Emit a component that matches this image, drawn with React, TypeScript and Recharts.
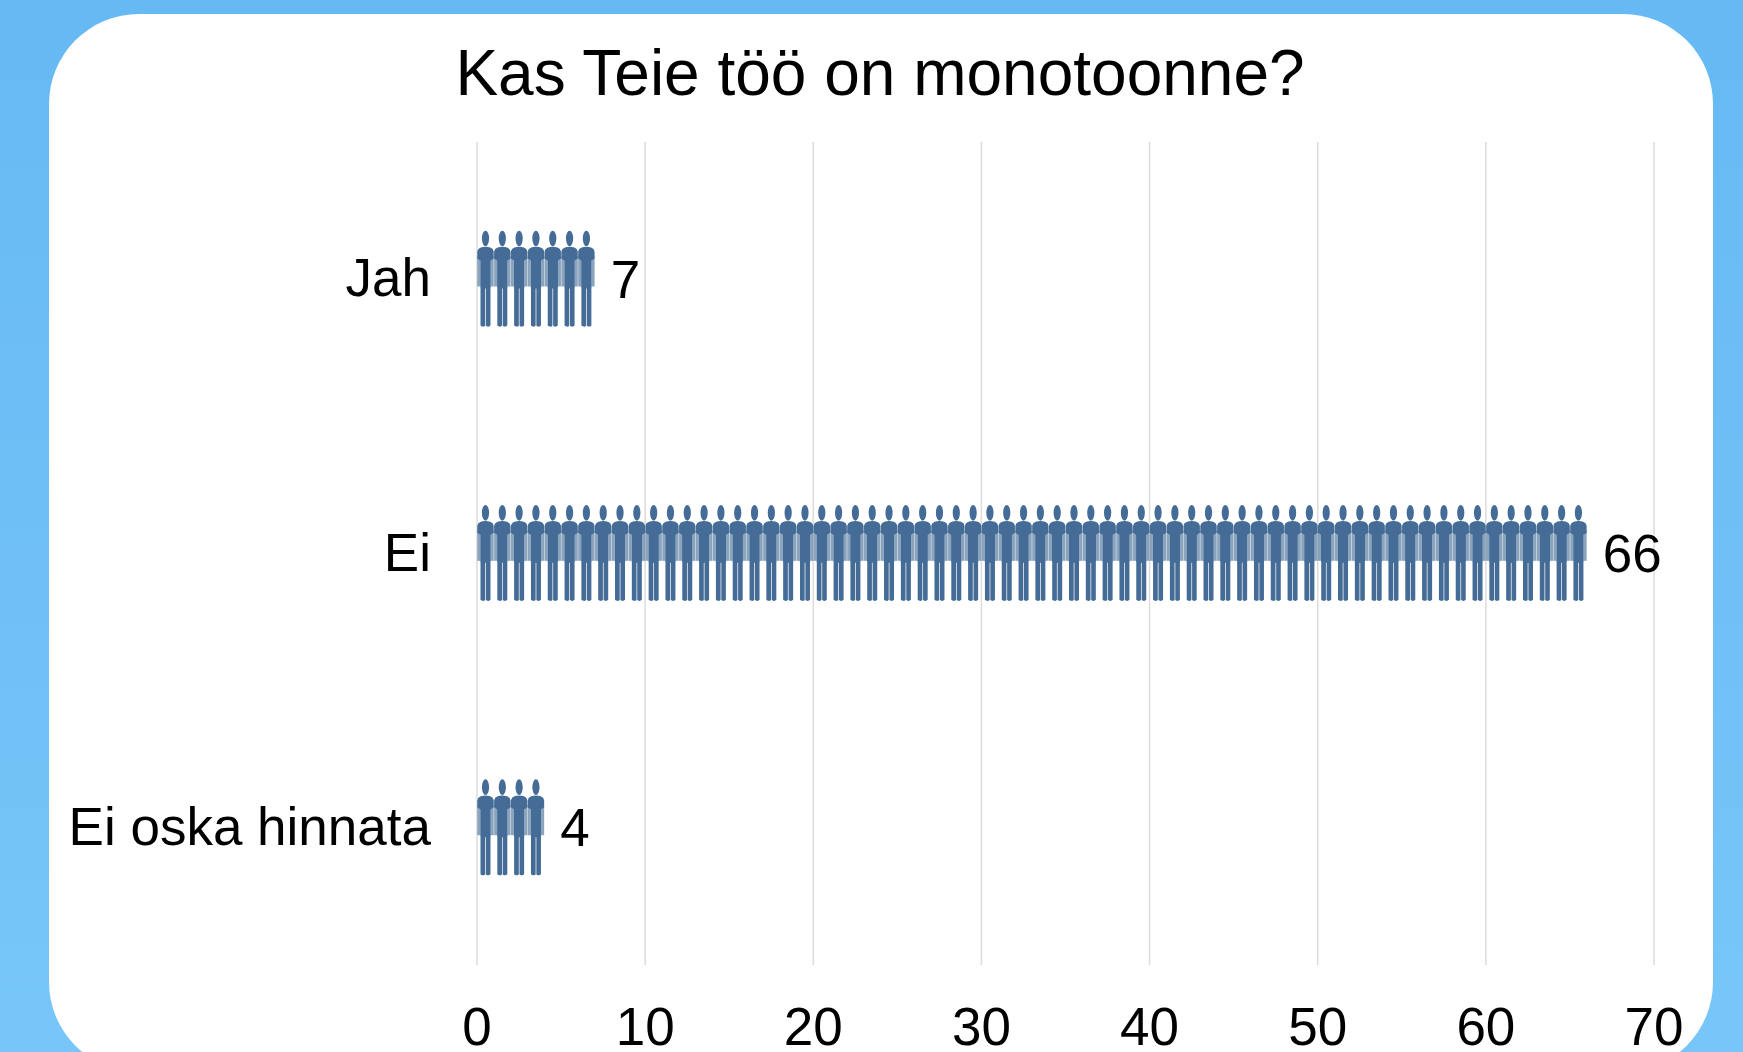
import React from "react";
import { BarChart, Bar, XAxis, YAxis, CartesianGrid, LabelList } from "recharts";

const categories = ["Jah", "Ei", "Ei oska hinnata"];
const counts = [7, 66, 4];
const xTicks = [0, 10, 20, 30, 40, 50, 60, 70];
const title = "Kas Teie töö on monotoonne?";
const chartData = categories.map((name, i) => ({ name, value: counts[i] }));

const FONT = "'Liberation Sans', Arial, sans-serif";
const INK = "#446c96";

// One person, drawn in a 17 x 96 box.
function Person({ x, y }: { x: number; y: number }) {
  return (
    <g transform={`translate(${x},${y})`} fill={INK}>
      <ellipse cx={8.2} cy={8} rx={3.6} ry={7.8} />
      <path d="M3.5 17 Q8.2 15.5 13 17 Q16 18 16.4 21 L16.4 28 L13.4 30 L13.4 57 L13.2 57 L13.2 95 Q11.8 96.5 10.3 96 Q9 96 8.6 95 L8.6 58 L7.9 58 L7.9 95 Q7.2 96.5 5.6 96 Q3.9 96 3.2 95 L3.2 57 L3 57 L3 30 L0 28 L0 21 Q0.4 18 3.5 17 Z" />
      <rect x={0} y={26} width={3} height={30} opacity={0.62} />
      <rect x={13.4} y={26} width={3} height={30} opacity={0.62} />
    </g>
  );
}

function PersonRow(props: any) {
  const { x, y, width, height, value } = props;
  const count = Array.isArray(value) ? value[1] : value;
  const unit = width / count;
  const people = [];
  for (let i = 0; i < count; i++) {
    people.push(<Person key={i} x={x + i * unit + 0.3} y={y + (height - 96) / 2 - 0.5} />);
  }
  return <g style={{ filter: "blur(0.7px)" }}>{people}</g>;
}

function CategoryTick(props: any) {
  const { x, y, payload } = props;
  return (
    <text x={x} y={y} dy={17} textAnchor="end" fontFamily={FONT} fontSize={53} fill="#000">
      {payload.value}
    </text>
  );
}

export default function App() {
  return (
    <div
      style={{
        position: "fixed",
        left: 0,
        top: 0,
        width: 1743,
        height: 1052,
        overflow: "hidden",
        background: "linear-gradient(180deg,#66b9f3 0%,#78c6f9 100%)",
      }}
    >
      <div
        style={{
          position: "absolute",
          left: 48.5,
          top: 14,
          width: 1664.5,
          height: 1058,
          background: "#fff",
          borderRadius: 90,
        }}
      />
      <div style={{ position: "absolute", left: 0, top: 0 }}>
        <BarChart
          width={1743}
          height={1052}
          layout="vertical"
          data={chartData}
          margin={{ top: 142, right: 89, bottom: 0, left: 0 }}
          barCategoryGap={0}
        >
          <text x={880} y={95} textAnchor="middle" fontFamily={FONT} fontSize={64} fill="#000">
            {title}
          </text>
          <CartesianGrid horizontal={false} stroke="#dcdcdc" strokeWidth={1.5} />
          <XAxis
            type="number"
            dataKey="value"
            domain={[0, 70]}
            ticks={xTicks}
            height={87}
            axisLine={false}
            tickLine={false}
            tickMargin={36}
            interval={0}
            tick={{ fontFamily: FONT, fontSize: 53, fill: "#000" }}
          />
          <YAxis
            type="category"
            dataKey="name"
            width={477}
            axisLine={false}
            tickLine={false}
            tickMargin={40}
            tick={CategoryTick}
          />
          <Bar dataKey="value" barSize={96} isAnimationActive={false} shape={PersonRow}>
            <LabelList
              dataKey="value"
              position="right"
              offset={16}
              style={{ fontFamily: FONT, fontSize: 53, fill: "#000" }}
            />
          </Bar>
        </BarChart>
      </div>
    </div>
  );
}
